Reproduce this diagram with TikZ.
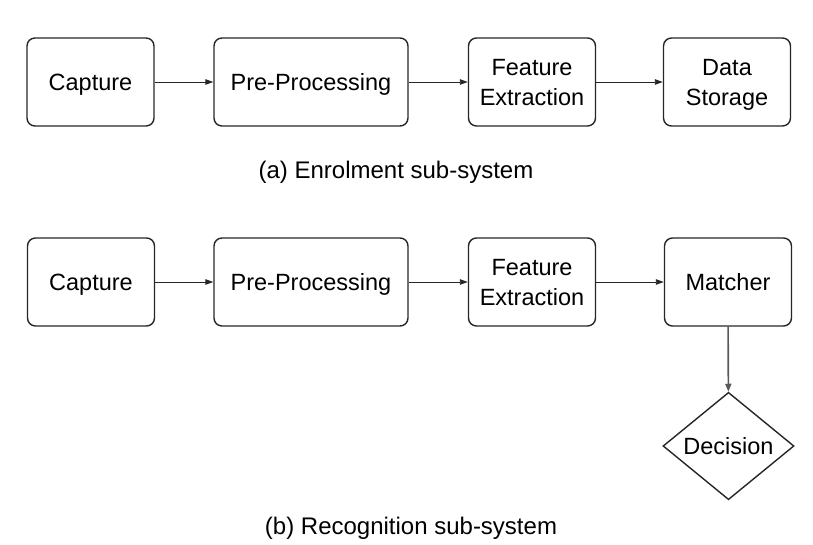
\documentclass[tikz,border=0pt]{standalone}
\usepackage{fontspec}
\setmainfont{Liberation Sans}
\usetikzlibrary{arrows.meta,shapes.geometric}
\begin{document}
\begin{tikzpicture}[x=1pt,y=-1pt,
  stage/.style={draw=black!85, line width=1.4pt, rounded corners=8pt, minimum height=88pt, inner sep=0pt, text depth=0pt, align=center, font=\fontsize{23.5}{30}\selectfont},
  smallbox/.style={stage, minimum width=127pt},
  widebox/.style={stage, minimum width=194pt},
  flow/.style={draw=black!85, line width=0.9pt, -{Triangle[length=8pt,width=5.5pt]}},
  downflow/.style={draw=black!65, line width=1.6pt, -{Triangle[length=8pt,width=6pt]}},
  captext/.style={font=\fontsize{24}{30}\selectfont, inner sep=0pt, text depth=0pt},
  decbox/.style={draw=black!85, line width=1.4pt, shape=diamond, inner sep=0pt, minimum width=131pt, minimum height=102pt, font=\fontsize{23.5}{30}\selectfont}
]
\useasboundingbox (0,0) rectangle (813,544);
% row a
\node[smallbox] (cap1) at (90.5,82) {Capture};
\node[widebox]  (pre1) at (311,82) {Pre-Processing};
\node[smallbox] (fe1)  at (532,82) {Feature\\Extraction};
\node[smallbox] (ds1)  at (727,82) {Data\\Storage};
\draw[flow] (cap1) -- (pre1);
\draw[flow] (pre1) -- (fe1);
\draw[flow] (fe1) -- (ds1);
\node[captext] (capA) at (396,170) {(a) Enrolment sub-system};
% row b
\node[smallbox] (cap2) at (91,282) {Capture};
\node[widebox]  (pre2) at (311,282) {Pre-Processing};
\node[smallbox] (fe2)  at (532,282) {Feature\\Extraction};
\node[smallbox] (mat)  at (728,282) {Matcher};
\draw[flow] (cap2) -- (pre2);
\draw[flow] (pre2) -- (fe2);
\draw[flow] (fe2) -- (mat);
\node[decbox] (dec) at (728.5,446) {Decision};
\draw[downflow] (mat) -- (dec);
\node[captext] (capB) at (411,526) {(b) Recognition sub-system};
\end{tikzpicture}
\end{document}
